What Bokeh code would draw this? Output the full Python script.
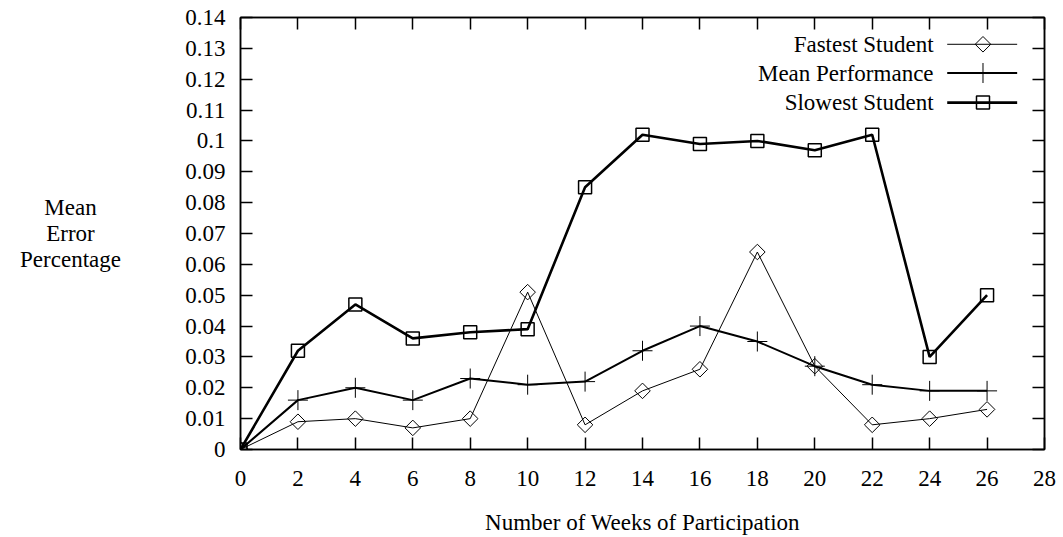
import numpy as np
from bokeh.plotting import figure
from bokeh.models import Range1d, FixedTicker, LinearAxis, ColumnDataSource, Label
from bokeh.embed import file_html
from bokeh.resources import INLINE

# ---- data ----
weeks = [0, 2, 4, 6, 8, 10, 12, 14, 16, 18, 20, 22, 24, 26]
fastest = [0, 0.009, 0.010, 0.007, 0.010, 0.051, 0.008, 0.019, 0.026, 0.064, 0.027, 0.008, 0.010, 0.013]
mean_perf = [0, 0.016, 0.020, 0.016, 0.023, 0.021, 0.022, 0.032, 0.040, 0.035, 0.027, 0.021, 0.019, 0.019]
slowest = [0, 0.032, 0.047, 0.036, 0.038, 0.039, 0.085, 0.102, 0.099, 0.100, 0.097, 0.102, 0.030, 0.050]
series_names = ["Fastest Student", "Mean Performance", "Slowest Student"]
x_ticks = [0, 2, 4, 6, 8, 10, 12, 14, 16, 18, 20, 22, 24, 26, 28]
y_ticks = [0, 0.01, 0.02, 0.03, 0.04, 0.05, 0.06, 0.07, 0.08, 0.09, 0.1, 0.11, 0.12, 0.13, 0.14]
y_tick_labels = ["0", "0.01", "0.02", "0.03", "0.04", "0.05", "0.06", "0.07", "0.08", "0.09",
                 "0.1", "0.11", "0.12", "0.13", "0.14"]
x_title = "Number of Weeks of Participation"
y_title = "Mean\nError\nPercentage"

FONT = "Liberation Serif"
FS = "23px"

XMAX, YMAX = 28, 0.14
p = figure(width=1063, height=537, x_range=Range1d(0, XMAX), y_range=Range1d(0, YMAX),
           output_backend="svg", toolbar_location=None,
           min_border_left=240, min_border_right=19, min_border_top=17, min_border_bottom=87)
p.grid.visible = False
p.outline_line_color = "black"
p.outline_line_width = 1.5
p.background_fill_color = "white"
p.border_fill_color = "white"


def style_axis(ax, ticks, show_labels):
    ax.ticker = FixedTicker(ticks=ticks)
    ax.major_tick_in = 12
    ax.major_tick_out = 0
    ax.minor_tick_line_color = None
    ax.major_tick_line_color = "black"
    ax.major_tick_line_width = 1.5
    ax.axis_line_color = "black"
    ax.axis_line_width = 1.5
    ax.major_label_text_font = FONT
    if show_labels:
        ax.major_label_text_font_size = FS
        ax.major_label_text_color = "black"
    else:
        ax.major_label_text_font_size = "1px"
        ax.major_label_text_color = None
        ax.major_label_standoff = 0


xa = p.xaxis[0]
style_axis(xa, x_ticks, True)
xa.major_label_standoff = 21
xa.axis_label = x_title
xa.axis_label_text_font = FONT
xa.axis_label_text_font_size = FS
xa.axis_label_text_font_style = "normal"
xa.axis_label_text_color = "black"
xa.axis_label_standoff = 21

ya = p.yaxis[0]
style_axis(ya, y_ticks, True)
ya.major_label_standoff = 15
ya.major_label_overrides = {t: s for t, s in zip(y_ticks, y_tick_labels)}

# y title: horizontal, centred lines, in the left panel
p.add_layout(Label(x=-11, y=0.5 * YMAX, x_units="screen", y_units="data", text=y_title,
                   text_font=FONT, text_font_size=FS, text_align="center",
                   text_baseline="middle", text_color="black", text_line_height=1.05), "left")

top = LinearAxis()
style_axis(top, x_ticks, False)
p.add_layout(top, "above")
right = LinearAxis()
style_axis(right, y_ticks, False)
p.add_layout(right, "right")

src = ColumnDataSource(dict(w=weeks, f=fastest, m=mean_perf, s=slowest))

styles = [
    dict(col="f", lw=1.0, marker="square", angle=np.pi / 4, size=11, mlw=1.0),
    dict(col="m", lw=2.0, marker="cross", angle=0, size=20, mlw=1.0),
    dict(col="s", lw=2.6, marker="square", angle=0, size=13, mlw=1.5),
]
for st in styles:
    p.line("w", st["col"], source=src, line_color="black", line_width=st["lw"])
    p.scatter("w", st["col"], source=src, marker=st["marker"], angle=st["angle"], size=st["size"],
              fill_color=None, line_color="black", line_width=st["mlw"])

# ---- legend (gnuplot style: text on the left, sample on the right) ----
leg_text_x = 0.862 * XMAX
leg_x0, leg_x1, leg_xm = 0.879 * XMAX, 0.966 * XMAX, 0.9235 * XMAX
leg_rows = [0.938 * YMAX, 0.8715 * YMAX, 0.803 * YMAX]
for name, st, yy in zip(series_names, styles, leg_rows):
    p.text(x=[leg_text_x], y=[yy], text=[name], text_align="right", text_baseline="middle",
           text_font={"value": FONT}, text_font_size={"value": FS}, text_color="black")
    p.line(x=[leg_x0, leg_x1], y=[yy, yy], line_color="black", line_width=st["lw"])
    p.scatter(x=[leg_xm], y=[yy], marker=st["marker"], angle=st["angle"], size=st["size"],
              fill_color=None, line_color="black", line_width=st["mlw"])

open("out.html", "w").write(file_html(p, INLINE))
